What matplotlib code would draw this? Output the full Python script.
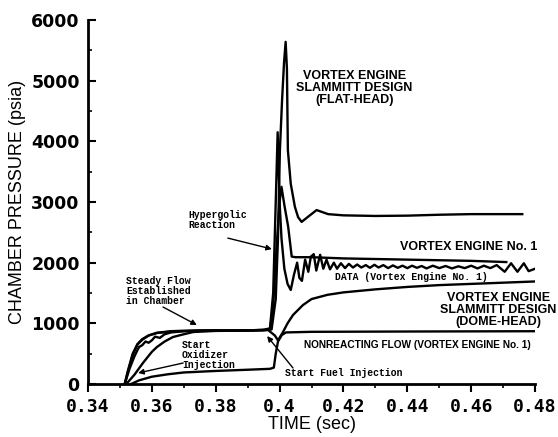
import matplotlib
matplotlib.use("Agg")
import matplotlib.pyplot as plt
from matplotlib.ticker import MultipleLocator

# ---- data (time in sec, pressure in psia) ----
flat_t = [0.3515, 0.3525, 0.354, 0.3555, 0.357, 0.359, 0.3616, 0.3666, 0.375, 0.385, 0.395,
          0.3975, 0.3988, 0.3995, 0.4001, 0.4008, 0.4014, 0.4019, 0.4023, 0.4026, 0.4035,
          0.4048, 0.4058, 0.4069, 0.409, 0.4116, 0.4152, 0.42, 0.43, 0.44, 0.45, 0.46, 0.476]
flat_p = [0, 220, 500, 660, 740, 800, 845, 872, 880, 882, 885,
          900, 1400, 2400, 3855, 4700, 5300, 5640, 5200, 3855, 3300,
          2920, 2750, 2672, 2760, 2867, 2800, 2780, 2770, 2775, 2790, 2800, 2800]

no1_t = [0.3515, 0.3525, 0.354, 0.3555, 0.357, 0.359, 0.3616, 0.3666, 0.375, 0.39, 0.397,
         0.398, 0.399, 0.4, 0.4006, 0.4015, 0.4027, 0.4038, 0.405, 0.41, 0.42, 0.44, 0.46, 0.471]
no1_p = [0, 200, 480, 650, 730, 800, 840, 870, 880, 882, 900,
         1300, 2200, 3000, 3250, 2950, 2590, 2100, 2090, 2090, 2070, 2050, 2030, 2010]

data_t = [0.3515, 0.353, 0.3545, 0.3555, 0.356, 0.357, 0.358, 0.359, 0.36, 0.361, 0.3625,
          0.364, 0.366, 0.37, 0.375, 0.38, 0.385, 0.39, 0.395, 0.397, 0.398, 0.3988,
          0.3994, 0.4, 0.4006, 0.4015, 0.4025, 0.4035, 0.4045, 0.4055, 0.4062, 0.407,
          0.408, 0.409, 0.4098, 0.4107, 0.4115, 0.4127, 0.4137, 0.4147, 0.4158, 0.417,
          0.418, 0.4192, 0.4205, 0.4217, 0.423, 0.4243, 0.4256, 0.427, 0.4283, 0.4297,
          0.431, 0.4325, 0.434, 0.4355, 0.437, 0.4385, 0.44, 0.4415, 0.443, 0.4445,
          0.446, 0.448, 0.45, 0.452, 0.454, 0.456, 0.458, 0.46, 0.462, 0.464, 0.466,
          0.468, 0.4705, 0.4725, 0.4745, 0.4765, 0.478, 0.48]
data_p = [0, 250, 450, 560, 610, 640, 700, 680, 720, 780, 760,
          820, 850, 870, 880, 885, 880, 885, 890, 920, 1500, 3000,
          4150, 3000, 2400, 1900, 1650, 1550, 1800, 2000, 1750, 1700,
          2050, 1850, 2100, 2140, 1870, 2130, 1900, 2050, 1890, 2000,
          1900, 1990, 1910, 1980, 1920, 1970, 1920, 1960, 1915, 1965,
          1920, 1960, 1910, 1955, 1915, 1950, 1910, 1950, 1915, 1945,
          1905, 1950, 1910, 1945, 1905, 1940, 1910, 1950, 1905, 1950, 1910,
          1960, 1850, 1990, 1850, 1990, 1860, 1900]

dome_t = [0.352, 0.3545, 0.3572, 0.36, 0.3616, 0.364, 0.3666, 0.37, 0.373, 0.38, 0.39,
          0.3964, 0.3985, 0.3995, 0.401, 0.4025, 0.4042, 0.4073, 0.41, 0.415, 0.42,
          0.43, 0.44, 0.45, 0.46, 0.47, 0.48]
dome_p = [0, 150, 346, 530, 610, 700, 774, 820, 857, 875, 880,
          890, 800, 720, 850, 1000, 1137, 1300, 1400, 1470, 1510,
          1560, 1600, 1630, 1650, 1670, 1690]

nonr_t = [0.3535, 0.356, 0.36, 0.365, 0.37, 0.38, 0.39, 0.397, 0.3982, 0.3988, 0.3995,
          0.4007, 0.402, 0.41, 0.44, 0.48]
nonr_p = [0, 60, 120, 160, 190, 215, 235, 250, 270, 500, 700,
          807, 850, 860, 865, 870]

x_ticks = [0.34, 0.36, 0.38, 0.40, 0.42, 0.44, 0.46, 0.48]
x_labels = ["0.34", "0.36", "0.38", "0.4", "0.42", "0.44", "0.46", "0.48"]
y_ticks = [0, 1000, 2000, 3000, 4000, 5000, 6000]

# ---- figure ----
fig = plt.figure(figsize=(5.58, 4.37), dpi=100)
ax = fig.add_axes([0.1577, 0.1213, 0.8011, 0.8329])

lw = 1.7
for t, p in [(flat_t, flat_p), (no1_t, no1_p), (data_t, data_p), (dome_t, dome_p), (nonr_t, nonr_p)]:
    ax.plot(t, p, color="black", lw=lw, solid_joinstyle="round")

ax.set_xlim(0.34, 0.48)
ax.set_ylim(0, 6000)
for s in ["top", "right"]:
    ax.spines[s].set_visible(False)
for s in ["left", "bottom"]:
    ax.spines[s].set_linewidth(2.0)

ax.set_xticks(x_ticks)
ax.set_xticklabels(x_labels, family="DejaVu Sans Mono", fontweight="bold", fontsize=13)
ax.set_yticks(y_ticks)
ax.set_yticklabels([str(v) for v in y_ticks], family="DejaVu Sans", fontweight="bold", fontsize=12.5)
ax.xaxis.set_minor_locator(MultipleLocator(0.01))
ax.yaxis.set_minor_locator(MultipleLocator(500))
ax.tick_params(axis="x", which="major", direction="out", length=6, width=1.5, pad=4)
ax.tick_params(axis="x", which="minor", direction="out", length=3, width=1.2)
ax.tick_params(axis="y", which="major", direction="in", length=6, width=1.5, pad=6)
ax.tick_params(axis="y", which="minor", direction="in", length=3, width=1.2)

ax.set_xlabel("TIME (sec)", family="Liberation Sans", fontsize=13, labelpad=0)
ax.set_ylabel("CHAMBER PRESSURE (psia)", family="Liberation Sans", fontsize=13, labelpad=4)

big = dict(family="Liberation Sans", fontweight="bold", fontsize=9, color="black")
mono = dict(family="Liberation Mono", fontweight="bold", fontsize=7, color="black")

ax.text(0.4235, 4877, "VORTEX ENGINE\nSLAMMITT DESIGN\n(FLAT-HEAD)", ha="center", va="center",
        linespacing=1.0, **big)
ax.text(0.4806, 2257, "VORTEX ENGINE No. 1", ha="right", va="center", clip_on=False, **big)
ax.text(0.4174, 1762, "DATA (Vortex Engine No. 1)", ha="left", va="center", **mono)
ax.text(0.4685, 1219, "VORTEX ENGINE\nSLAMMITT DESIGN\n(DOME-HEAD)", ha="center", va="center",
        linespacing=1.0, clip_on=False, **big)
ax.text(0.4432, 642, "NONREACTING FLOW (VORTEX ENGINE No. 1)", ha="center", va="center",
        family="Liberation Sans", fontweight="bold", fontsize=7.3)
ax.text(0.4017, 181, "Start Fuel Injection", ha="left", va="center", **mono)
ax.text(0.3713, 2700, "Hypergolic\nReaction", ha="left", va="center", linespacing=1.0, **mono)
ax.text(0.3519, 1540, "Steady Flow\nEstablished\nin Chamber", ha="left", va="center", linespacing=1.0, **mono)
ax.text(0.3694, 478, "Start\nOxidizer\nInjection", ha="left", va="center", linespacing=1.0, **mono)

arrow = dict(arrowstyle="-|>", color="black", lw=1.0, mutation_scale=8, shrinkA=0, shrinkB=0)
ax.annotate("", xy=(0.3976, 2224), xytext=(0.3838, 2405), arrowprops=arrow)
ax.annotate("", xy=(0.3741, 972), xytext=(0.3635, 1269), arrowprops=arrow)
ax.annotate("", xy=(0.3557, 181), xytext=(0.3698, 346), arrowprops=arrow)
ax.annotate("", xy=(0.3961, 790), xytext=(0.4042, 264), arrowprops=arrow)

fig.savefig("out.png", dpi=100)
